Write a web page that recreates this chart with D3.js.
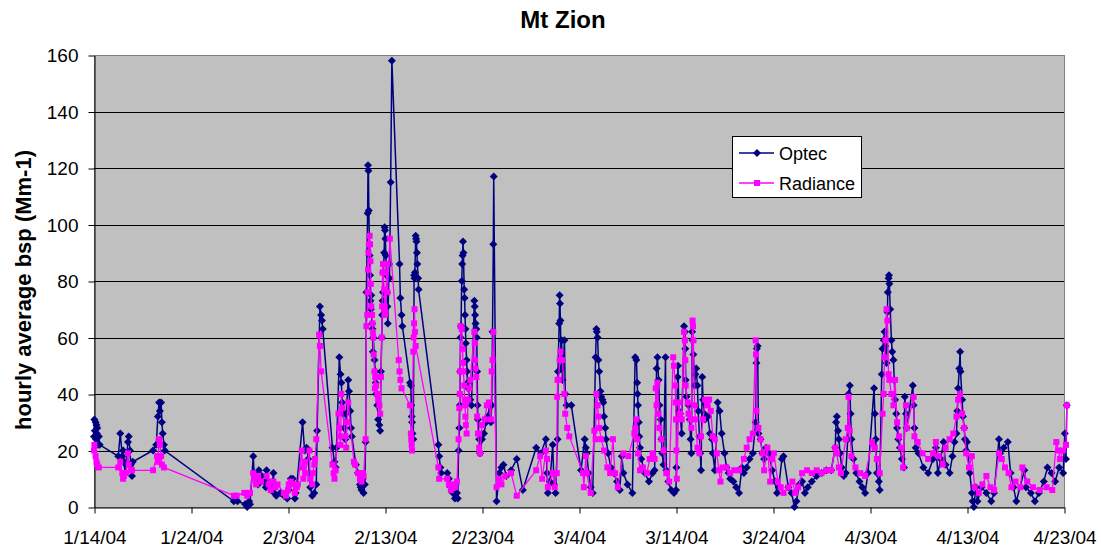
<!DOCTYPE html>
<html>
<head>
<meta charset="utf-8">
<script src="https://cdn.jsdelivr.net/npm/d3@7"></script>
<style>
    body { margin: 0; background: #fff; }
    text { font-family: "Liberation Sans", Arial, sans-serif; fill: #000; }
</style>
</head>
<body>
<div class="container"></div>
<script>
const WIDTH = 1101;
const HEIGHT = 550;
const LEFT = 94, RIGHT = 1064, TOP = 55, BOTTOM = 507;

// days counted from 1/14/04
const START_DATE = new Date(2004, 0, 14);
const xTickDays = [0, 10, 20, 30, 40, 50, 60, 70, 80, 90, 100];
const yTickValues = [0, 20, 40, 60, 80, 100, 120, 140, 160];
const seriesNames = ['Optec', 'Radiance'];

const optecPoints = [
    [0, 25], [0.05, 31], [0.1, 27], [0.15, 30], [0.2, 24], [0.25, 29], [0.3, 26], [0.35, 28], [0.4, 22], [0.5, 25], [0.6, 22],
    [2.5, 18], [2.7, 26], [2.9, 18], [3.0, 20], [3.1, 16], [3.2, 12], [3.3, 15], [3.5, 23], [3.6, 25], [3.7, 20], [3.8, 15], [3.9, 11], [4.0, 16],
    [6.1, 20], [6.4, 22], [6.6, 32], [6.7, 37], [6.8, 34], [6.9, 37], [7.0, 30], [7.1, 26], [7.2, 22], [7.3, 20],
    [14.4, 2], [14.8, 2], [15.6, 1], [15.8, 0], [16.0, 2], [16.1, 1],
    [16.4, 18], [16.5, 12], [16.7, 10], [16.9, 8], [17.0, 13], [17.3, 11], [17.5, 9], [17.7, 7], [17.8, 13], [18.0, 8], [18.3, 6],
    [18.5, 12], [18.6, 5], [18.8, 4], [19.2, 5], [19.6, 4], [19.9, 3], [20.1, 6], [20.3, 10], [20.5, 10], [20.7, 3], [20.8, 5], [20.9, 8],
    [21.5, 30], [21.7, 20], [21.9, 21], [22.1, 17], [22.3, 7], [22.5, 4], [22.7, 5], [22.9, 8], [23.0, 27],
    [23.3, 71], [23.4, 68], [23.5, 66], [23.6, 63],
    [24.6, 21], [24.8, 16], [24.9, 14], [25.0, 21],
    [25.3, 53], [25.4, 47], [25.5, 44], [25.6, 37], [25.7, 33], [25.8, 28], [25.9, 24], [26.0, 33],
    [26.2, 45], [26.3, 41], [26.4, 34], [26.5, 28], [26.6, 25],
    [27.0, 15], [27.2, 12], [27.4, 8], [27.5, 7], [27.6, 6], [27.7, 10], [27.8, 5], [27.9, 8],
    [28.0, 23], [28.1, 76], [28.2, 104], [28.25, 121], [28.3, 119], [28.35, 105], [28.4, 89], [28.45, 82], [28.5, 73], [28.55, 70],
    [28.6, 75], [28.65, 65], [28.7, 63], [28.75, 55], [28.8, 60], [28.9, 52], [29.0, 48], [29.05, 44], [29.1, 40], [29.2, 36],
    [29.3, 31], [29.4, 29], [29.5, 27],
    [29.6, 48], [29.65, 60], [29.7, 68], [29.75, 73], [29.8, 76], [29.85, 83], [29.9, 90], [29.95, 99], [30.0, 98], [30.05, 95],
    [30.1, 89], [30.15, 82], [30.2, 76], [30.25, 71], [30.3, 65], [30.4, 86], [30.45, 81], [30.6, 115], [30.7, 158],
    [31.5, 86], [31.6, 74], [31.7, 68], [31.8, 64],
    [32.6, 44], [32.65, 43], [32.7, 36], [32.75, 32], [32.8, 30], [32.85, 26], [32.9, 24],
    [33.0, 82], [33.05, 81], [33.1, 83], [33.15, 96], [33.2, 95], [33.25, 94], [33.3, 90], [33.35, 86], [33.4, 81], [33.45, 77],
    [35.5, 22], [35.6, 18], [35.7, 14], [35.8, 12],
    [36.4, 12], [36.6, 10], [36.8, 7], [37.0, 5], [37.2, 3], [37.4, 5], [37.5, 3],
    [37.6, 20], [37.65, 28], [37.7, 36], [37.75, 48], [37.8, 60], [37.85, 64], [37.9, 80], [37.95, 86], [38.0, 89], [38.05, 94],
    [38.1, 90], [38.15, 77], [38.2, 74], [38.25, 68], [38.3, 63], [38.35, 58], [38.4, 52], [38.45, 48], [38.5, 44], [38.6, 42],
    [38.8, 38], [38.9, 36],
    [39.2, 73], [39.25, 71], [39.3, 68], [39.35, 65], [39.4, 63], [39.45, 60], [39.5, 48], [39.55, 36], [39.6, 31], [39.7, 24], [39.8, 19],
    [40.0, 24], [40.2, 26], [40.4, 30], [40.6, 32], [40.8, 36], [40.9, 30], [41.0, 36], [41.1, 62], [41.15, 93], [41.2, 117], [41.5, 2],
    [41.8, 12], [42.0, 14], [42.2, 15], [42.5, 11], [43.0, 13], [43.6, 17], [44.2, 6],
    [45.6, 21], [46.1, 19], [46.6, 24], [46.7, 12], [46.8, 5], [47.0, 9], [47.3, 22], [47.4, 8], [47.6, 5],
    [47.8, 24], [47.85, 48], [47.95, 65], [48.0, 75], [48.05, 72], [48.1, 66], [48.15, 49], [48.2, 59], [48.3, 45], [48.5, 59],
    [48.6, 40], [48.7, 36], [49.2, 36],
    [50.2, 13], [50.6, 24], [50.7, 21], [50.8, 19], [51.0, 12], [51.2, 7], [51.4, 5],
    [51.7, 53], [51.8, 63], [51.85, 62], [51.9, 60], [52.0, 52], [52.1, 48], [52.2, 41], [52.3, 39], [52.4, 38], [52.5, 37],
    [52.6, 32], [52.7, 28], [52.8, 24],
    [53.0, 19], [53.3, 14], [53.6, 12], [53.9, 9], [54.2, 6], [54.4, 18], [54.6, 12], [55.0, 8], [55.5, 5],
    [55.8, 53], [55.9, 52], [56.0, 44], [56.05, 40], [56.1, 36], [56.15, 30], [56.2, 25], [56.3, 21], [56.4, 17],
    [56.8, 12], [57.2, 9], [57.6, 12], [57.8, 13],
    [58.0, 49], [58.1, 53], [58.2, 45], [58.3, 36], [58.4, 31], [58.5, 24], [58.6, 19], [58.7, 15], [58.9, 53], [59.0, 13],
    [59.2, 9], [59.5, 6], [59.8, 5],
    [60.0, 6], [60.05, 14], [60.1, 31], [60.15, 46], [60.2, 50], [60.3, 34], [60.4, 33], [60.6, 26],
    [60.85, 64], [60.9, 62], [60.95, 56], [61.0, 45], [61.1, 39], [61.3, 36], [61.4, 31], [61.5, 24], [61.6, 19],
    [61.65, 62], [61.7, 59], [61.8, 54], [61.9, 43], [62.0, 47], [62.1, 49], [62.2, 43], [62.3, 34], [62.4, 25], [62.5, 19], [62.6, 13],
    [62.7, 46], [62.8, 38], [62.9, 33], [63.0, 31], [63.3, 32], [63.5, 26], [63.7, 24], [63.8, 19], [64.0, 13],
    [64.3, 37], [64.5, 34], [64.7, 26], [65.0, 19], [65.2, 14], [65.4, 12], [65.6, 10],
    [65.9, 9], [66.2, 7], [66.5, 5], [66.8, 14], [67.0, 12], [67.3, 14], [67.6, 17], [67.9, 19],
    [68.2, 30], [68.3, 51], [68.35, 56], [68.4, 57], [68.5, 26], [68.7, 24], [68.9, 19], [69.1, 17],
    [69.3, 21], [69.6, 19], [69.9, 13], [70.2, 9], [70.4, 5], [70.6, 7], [70.9, 17], [71.1, 18],
    [71.6, 7], [71.9, 5], [72.2, 0], [72.4, 2], [72.7, 8], [73.0, 9],
    [73.3, 5], [73.6, 7], [74.0, 9], [74.5, 11], [75.0, 12], [75.5, 13], [76.0, 13],
    [76.4, 21], [76.5, 30], [76.6, 32], [76.7, 27], [76.8, 24], [76.9, 19], [77.1, 14], [77.3, 11],
    [77.5, 12], [77.7, 24], [77.8, 40], [77.9, 43], [78.0, 33], [78.1, 24],
    [78.3, 17], [78.6, 12], [78.9, 9], [79.2, 7], [79.5, 5], [79.8, 12],
    [80.4, 42], [80.5, 33], [80.6, 24], [80.7, 12], [80.9, 9], [81.0, 6],
    [81.2, 47], [81.3, 56], [81.4, 59], [81.5, 62], [81.6, 57], [81.7, 51], [81.8, 69], [81.85, 76], [81.9, 81], [81.95, 82],
    [82.0, 79], [82.1, 70], [82.2, 59], [82.3, 55], [82.4, 52], [82.5, 45], [82.6, 38], [82.7, 33], [82.8, 28], [82.9, 24],
    [83.1, 21], [83.3, 17], [83.5, 14],
    [83.6, 39], [83.7, 33], [83.8, 28],
    [84.4, 43], [84.5, 36], [84.6, 28], [84.7, 21],
    [85.0, 19], [85.5, 14], [86.0, 12], [86.5, 17],
    [86.8, 21], [87.0, 12], [87.3, 17], [87.6, 23], [87.8, 15], [88.2, 12], [88.5, 18], [88.7, 23],
    [88.9, 26], [89.0, 34], [89.1, 42], [89.2, 49], [89.3, 55], [89.35, 48], [89.5, 38], [89.6, 32], [89.7, 28], [89.8, 24], [89.9, 20], [90.0, 23],
    [90.3, 12], [90.5, 5], [90.6, 2], [90.7, 0], [90.9, 7], [91.1, 2], [91.5, 7], [92.0, 5], [92.5, 2], [92.8, 5],
    [93.3, 24], [93.4, 19], [93.8, 21], [94.2, 23], [94.5, 12], [94.8, 7], [95.1, 2],
    [95.9, 13], [96.1, 7], [96.6, 5], [97.0, 2], [97.4, 5], [97.9, 9], [98.3, 14], [98.7, 12], [99.1, 9], [99.5, 14], [99.9, 12],
    [100.1, 26], [100.2, 17], [100.3, 36]
];

const radiancePoints = [
    [0, 20], [0.05, 22], [0.15, 18], [0.25, 16], [0.35, 15], [0.5, 14],
    [2.5, 14], [2.7, 16], [2.9, 12], [3.0, 10], [3.1, 11], [3.3, 12], [3.5, 19], [3.6, 15], [3.8, 13], [3.9, 13],
    [6.1, 13],
    [6.5, 18], [6.6, 16], [6.7, 24], [6.8, 22], [6.9, 18], [7.0, 15], [7.2, 14],
    [14.4, 4], [14.7, 4], [15.5, 5], [15.8, 4], [16.1, 5],
    [16.4, 12], [16.5, 10], [16.7, 8], [16.9, 11], [17.2, 9],
    [17.8, 11], [18.0, 8], [18.2, 6], [18.3, 9], [18.5, 9], [18.7, 7], [18.9, 8],
    [19.6, 5], [19.8, 4], [20.0, 6], [20.1, 8], [20.3, 9], [20.5, 8], [20.7, 5], [20.9, 7], [21.0, 8],
    [21.4, 20], [21.5, 14], [21.6, 10], [21.7, 16], [21.8, 12], [22.2, 20], [22.3, 10], [22.5, 8], [22.6, 12], [22.7, 15],
    [22.8, 17], [22.9, 24],
    [23.2, 61], [23.3, 57], [23.4, 48],
    [24.6, 15], [24.7, 12], [24.8, 10], [24.9, 13],
    [25.2, 33], [25.3, 28], [25.35, 25], [25.4, 22], [25.5, 40], [25.6, 35],
    [25.9, 25], [26.0, 21], [26.1, 30], [26.2, 37],
    [26.8, 16], [26.9, 15], [27.2, 12], [27.4, 10], [27.6, 9], [27.7, 12], [27.8, 11],
    [28.0, 24], [28.1, 64], [28.15, 68], [28.2, 76], [28.25, 84], [28.3, 90], [28.35, 93], [28.4, 96], [28.45, 93], [28.5, 87],
    [28.55, 79], [28.6, 71], [28.65, 68], [28.7, 65], [28.75, 62], [28.8, 60], [28.85, 54], [28.9, 48], [28.95, 42], [29.0, 46],
    [29.1, 43], [29.2, 40], [29.3, 38], [29.4, 36], [29.5, 33],
    [29.6, 46], [29.65, 60], [29.7, 71], [29.75, 83], [29.8, 86], [29.85, 83], [29.9, 77], [29.95, 71], [30.0, 68], [30.05, 69],
    [30.2, 86], [30.25, 76], [30.5, 95],
    [31.4, 52], [31.5, 48], [31.6, 45], [31.7, 42],
    [32.6, 36], [32.65, 26], [32.7, 24], [32.75, 22], [32.8, 20],
    [32.9, 55], [32.95, 60], [33.0, 65], [33.05, 70], [33.1, 62], [33.15, 57],
    [35.5, 14], [35.6, 10],
    [36.4, 10], [36.6, 8], [36.8, 6], [37.0, 8], [37.2, 7], [37.4, 9],
    [37.6, 24], [37.65, 35], [37.7, 40], [37.75, 48], [37.8, 64], [37.9, 63], [38.0, 56], [38.05, 51], [38.1, 48], [38.15, 43],
    [38.2, 38], [38.25, 36], [38.3, 32], [38.35, 29], [38.4, 26],
    [38.6, 38], [38.7, 42], [38.8, 45],
    [39.2, 62], [39.25, 58], [39.3, 52], [39.35, 49], [39.4, 46], [39.5, 32], [39.6, 26], [39.7, 21], [39.8, 19],
    [40.0, 29], [40.3, 31], [40.5, 36], [40.7, 37], [40.9, 31], [41.0, 48], [41.1, 52], [41.15, 62],
    [41.5, 7], [41.8, 10], [42.0, 8], [42.4, 11], [43.0, 12], [43.6, 4],
    [45.6, 13], [46.0, 18], [46.2, 10], [46.6, 20], [46.7, 17], [46.8, 7], [47.3, 12], [47.5, 7],
    [47.7, 12], [47.75, 39], [47.8, 45], [47.9, 45], [48.0, 52], [48.1, 55], [48.3, 52], [48.5, 40], [48.6, 33], [48.8, 28], [49.0, 25],
    [50.4, 12], [50.5, 7], [50.7, 18], [50.8, 12], [51.2, 5], [51.6, 27], [51.7, 24],
    [51.8, 40], [51.9, 36], [52.0, 32], [52.1, 28], [52.3, 24], [52.6, 20], [52.9, 14], [53.2, 12], [53.5, 24], [53.7, 12], [54.0, 7],
    [54.6, 19], [55.1, 18], [55.7, 26], [55.8, 28], [55.9, 31], [56.0, 24], [56.1, 19], [56.3, 13],
    [56.6, 14], [57.0, 12], [57.3, 17], [57.6, 19], [57.8, 17],
    [57.9, 42], [58.0, 36], [58.1, 44], [58.2, 33], [58.3, 28], [58.5, 24], [58.7, 20], [59.0, 12], [59.3, 9],
    [59.7, 53], [59.8, 50], [59.9, 43], [59.95, 37], [60.0, 31], [60.05, 20], [60.1, 10], [60.3, 37], [60.4, 33], [60.6, 31],
    [60.85, 62], [60.9, 59], [60.95, 52], [61.0, 43], [61.2, 37], [61.3, 33], [61.5, 31], [61.6, 28],
    [61.7, 66], [61.75, 64], [61.8, 59], [61.9, 36], [62.0, 31], [62.2, 21], [62.4, 19], [62.6, 25], [62.8, 31], [63.0, 38], [63.2, 36],
    [63.4, 38], [63.6, 34], [63.8, 25], [64.0, 24], [64.2, 19], [64.4, 13], [64.6, 9], [64.8, 14],
    [65.2, 14], [65.6, 12], [66.0, 13], [66.5, 13], [67.0, 17], [67.3, 21], [67.6, 24], [67.9, 26],
    [68.2, 59], [68.25, 54], [68.3, 34], [68.5, 28], [68.7, 24], [68.9, 19], [69.1, 13], [69.4, 21],
    [69.7, 9], [69.9, 17], [70.1, 19], [70.5, 9], [70.8, 7], [71.1, 5],
    [71.6, 7], [72.0, 9], [72.3, 5],
    [72.6, 7], [73.0, 12], [73.5, 13], [74.0, 12], [74.5, 13], [75.0, 12], [75.5, 13], [76.0, 13],
    [76.4, 21], [76.6, 19], [76.8, 14], [77.0, 12],
    [77.5, 24], [77.7, 28], [77.8, 39], [77.9, 27],
    [78.1, 18], [78.5, 14], [79.0, 12], [79.5, 11],
    [80.2, 23], [80.5, 21], [80.7, 17], [81.0, 12],
    [81.3, 33], [81.4, 40], [81.5, 53], [81.6, 59], [81.7, 70], [81.8, 66], [81.9, 47], [82.0, 45], [82.2, 40], [82.4, 36], [82.6, 45],
    [82.8, 30], [83.0, 25], [83.2, 21], [83.4, 14],
    [83.7, 36], [83.8, 28],
    [84.5, 39], [84.6, 25],
    [84.9, 23], [85.4, 19], [86.0, 17], [86.5, 19],
    [86.8, 23], [87.1, 18], [87.5, 15], [87.8, 21], [88.2, 24], [88.6, 26],
    [88.9, 32], [89.1, 38], [89.3, 40], [89.5, 33], [89.7, 28],
    [89.9, 19], [90.2, 14], [90.5, 18], [90.8, 7], [91.2, 5], [91.6, 8], [92.0, 11], [92.4, 7], [92.8, 6],
    [93.3, 19], [93.6, 17], [93.9, 14], [94.3, 12],
    [94.6, 7], [95.0, 9], [95.5, 7], [95.7, 14],
    [96.2, 9], [96.8, 7], [97.5, 6], [98.2, 7], [98.8, 6],
    [99.2, 23], [99.4, 20], [99.6, 17], [99.9, 20], [100.2, 22], [100.3, 36]
];

var toDate = function (day) {
    return d3.timeHour.offset(START_DATE, Math.round(day * 24));
};

var translate = function (x, y) {
    return "translate(" + x + "," + y + ")";
};

var xScale, yScale;

var drawChart = function () {
    var svg = d3.select('.container').append('svg')
        .attr('width', WIDTH)
        .attr('height', HEIGHT);

    svg.append('rect')
        .attr('width', WIDTH)
        .attr('height', HEIGHT)
        .attr('fill', '#fff');

    xScale = d3.scaleTime()
        .domain([START_DATE, toDate(100)])
        .range([LEFT, RIGHT]);

    yScale = d3.scaleLinear()
        .domain([0, 160])
        .range([BOTTOM, TOP]);

    // plot area
    svg.append('rect')
        .attr('x', LEFT + 0.5)
        .attr('y', TOP + 0.5)
        .attr('width', RIGHT - LEFT)
        .attr('height', BOTTOM - TOP)
        .attr('fill', '#c0c0c0')
        .attr('stroke', '#808080')
        .attr('stroke-width', 1);

    svg.append('g')
        .selectAll('line')
        .data(yTickValues.filter(function (v) { return v > 0 && v < 160; }))
        .enter().append('line')
        .attr('x1', LEFT)
        .attr('x2', RIGHT)
        .attr('y1', function (v) { return Math.round(yScale(v)) + 0.5; })
        .attr('y2', function (v) { return Math.round(yScale(v)) + 0.5; })
        .attr('stroke', '#000')
        .attr('stroke-width', 1);

    var xAxis = d3.axisBottom(xScale)
        .tickValues(xTickDays.map(toDate))
        .tickFormat(d3.timeFormat('%-m/%-d/%y'))
        .tickSize(6)
        .tickSizeOuter(0)
        .tickPadding(17);

    var yAxis = d3.axisLeft(yScale)
        .tickValues(yTickValues)
        .tickSize(6)
        .tickSizeOuter(0)
        .tickPadding(10);

    var gx = svg.append('g')
        .attr('transform', translate(0.5, BOTTOM + 0.5))
        .call(xAxis);

    var gy = svg.append('g')
        .attr('transform', translate(LEFT + 0.5, 0.5))
        .call(yAxis);

    [gx, gy].forEach(function (g) {
        g.selectAll('path, line').attr('stroke', '#000');
        g.selectAll('text')
            .style('font-size', '19px')
            .style('font-family', '"Liberation Sans", Arial, sans-serif')
            .attr('fill', '#000');
    });

    var line = d3.line()
        .x(function (d) { return xScale(toDate(d[0])); })
        .y(function (d) { return yScale(d[1]); });

    var diamond = 'M0,-4L4,0L0,4L-4,0Z';

    var g = svg.append('g');

    g.append('path')
        .attr('d', line(optecPoints))
        .attr('fill', 'none')
        .attr('stroke', '#000080')
        .attr('stroke-width', 1.5);

    g.selectAll('.optec')
        .data(optecPoints)
        .enter().append('path')
        .attr('class', 'optec')
        .attr('d', diamond)
        .attr('transform', function (d) {
            return translate(xScale(toDate(d[0])), yScale(d[1]));
        })
        .attr('fill', '#000080');

    g.append('path')
        .attr('d', line(radiancePoints))
        .attr('fill', 'none')
        .attr('stroke', '#ff00ff')
        .attr('stroke-width', 1.3);

    g.selectAll('.radiance')
        .data(radiancePoints)
        .enter().append('rect')
        .attr('class', 'radiance')
        .attr('x', function (d) { return xScale(toDate(d[0])) - 3; })
        .attr('y', function (d) { return yScale(d[1]) - 3; })
        .attr('width', 6)
        .attr('height', 6)
        .attr('fill', '#ff00ff');

    // title and axis label
    svg.append('text')
        .attr('x', 563)
        .attr('y', 28)
        .attr('text-anchor', 'middle')
        .style('font-size', '24px')
        .style('font-weight', 'bold')
        .text('Mt Zion');

    svg.append('text')
        .attr('transform', translate(31, 290) + ' rotate(-90)')
        .attr('text-anchor', 'middle')
        .style('font-size', '22px')
        .style('font-weight', 'bold')
        .text('hourly average bsp (Mm-1)');

    // legend
    var legend = svg.append('g').attr('transform', translate(732, 136));
    legend.append('rect')
        .attr('x', 0.5)
        .attr('y', 0.5)
        .attr('width', 129)
        .attr('height', 61)
        .attr('fill', '#fff')
        .attr('stroke', '#000');

    var colors = ['#000080', '#ff00ff'];
    seriesNames.forEach(function (name, i) {
        var y = 17 + i * 30;
        legend.append('line')
            .attr('x1', 7).attr('x2', 42)
            .attr('y1', y).attr('y2', y)
            .attr('stroke', colors[i])
            .attr('stroke-width', 1.5);
        if (i === 0) {
            legend.append('path')
                .attr('d', diamond)
                .attr('transform', translate(25, y))
                .attr('fill', colors[i]);
        } else {
            legend.append('rect')
                .attr('x', 22).attr('y', y - 3)
                .attr('width', 6).attr('height', 6)
                .attr('fill', colors[i]);
        }
        legend.append('text')
            .attr('x', 47)
            .attr('y', y + 6.5)
            .style('font-size', '18px')
            .text(name);
    });
};

window.onload = function () {
    drawChart();
};
</script>
</body>
</html>
